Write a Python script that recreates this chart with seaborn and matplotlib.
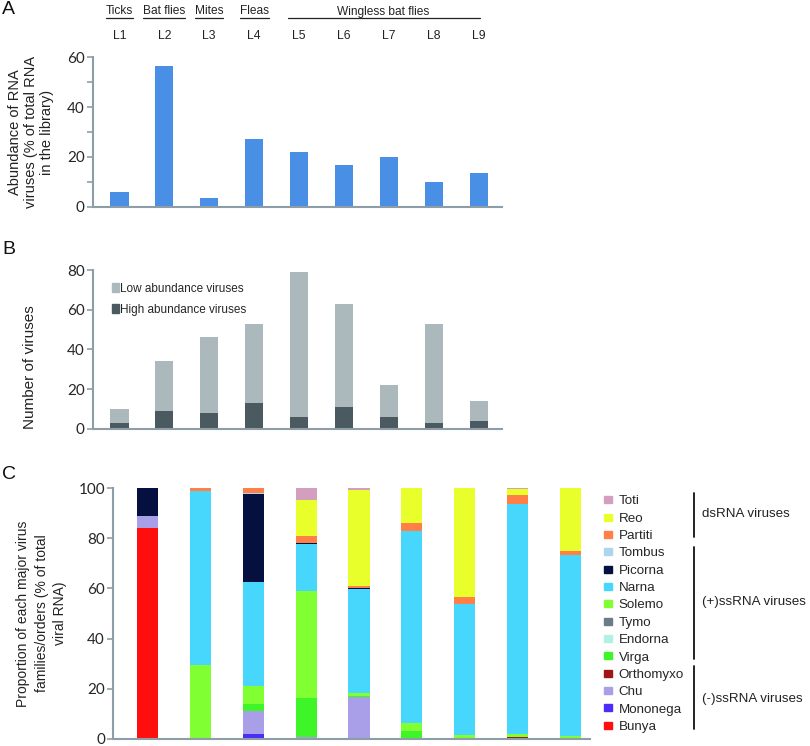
import numpy as np
import pandas as pd
import matplotlib
matplotlib.use("Agg")
import matplotlib.pyplot as plt
import seaborn as sns
from matplotlib.patches import Patch
from matplotlib.lines import Line2D
from matplotlib.transforms import blended_transform_factory

# ---------------- data ----------------
libraries = ["L1", "L2", "L3", "L4", "L5", "L6", "L7", "L8", "L9"]
host_groups = ["Ticks", "Bat flies", "Mites", "Fleas", "Wingless bat flies"]
host_group_pos = [0, 1, 2, 3, 5.86]

# Panel A: abundance of RNA viruses (% of total RNA in the library)
abundance = [5.9, 56.6, 3.4, 27.3, 22.0, 16.6, 19.8, 9.9, 13.7]

# Panel B: number of viruses
high_abundance = [3, 9, 8, 13, 6, 11, 6, 3, 4]
low_abundance = [7, 25, 38, 40, 73, 52, 16, 50, 10]

# Panel C: proportion of each virus family/order (% of total viral RNA)
families = ["Toti", "Reo", "Partiti", "Tombus", "Picorna", "Narna", "Solemo",
            "Tymo", "Endorna", "Virga", "Orthomyxo", "Chu", "Mononega", "Bunya"]
toti      = [0, 0, 0, 4.8, 0.7, 0, 0, 0.4, 0]
reo       = [0, 0, 0, 14.4, 38.4, 13.8, 43.3, 2.3, 25.2]
partiti   = [0, 1.1, 1.9, 2.5, 0.6, 3.2, 2.8, 3.6, 1.3]
tombus    = [0, 0, 0.3, 0, 0, 0, 0, 0, 0]
picorna   = [10.9, 0, 35.2, 0.4, 0.4, 0, 0, 0, 0]
narna     = [0, 69.5, 41.6, 18.8, 41.8, 76.7, 52.4, 92.0, 72.3]
solemo    = [0, 29.4, 7.0, 42.7, 1.0, 3.4, 1.1, 0.9, 1.2]
tymo      = [0, 0, 0, 0, 0, 0, 0, 0, 0]
endorna   = [0, 0, 0, 0, 0, 0, 0, 0, 0]
virga     = [0, 0, 2.9, 15.6, 0.6, 2.9, 0.4, 0.3, 0]
orthomyxo = [0, 0, 0, 0, 0, 0, 0, 0.5, 0]
chu       = [4.8, 0, 9.2, 0.8, 16.5, 0, 0, 0, 0]
mononega  = [0.3, 0, 1.9, 0, 0, 0, 0, 0, 0]
bunya     = [84.0, 0, 0, 0, 0, 0, 0, 0, 0]
family_values = [toti, reo, partiti, tombus, picorna, narna, solemo, tymo,
                 endorna, virga, orthomyxo, chu, mononega, bunya]

family_colors = ["#d49fbe", "#e8ff2b", "#ff7f47", "#acd6ee", "#050f40", "#48d7fc",
                 "#80ff33", "#6b7c87", "#b3f0e4", "#3df527", "#a01515", "#a89fe8",
                 "#4b2df5", "#ff0e0e"]
groups = [("dsRNA viruses", 0, 2), ("(+)ssRNA viruses", 3, 9), ("(-)ssRNA viruses", 10, 13)]

# ---------------- style ----------------
sns.set_theme(style="white")
plt.rcParams["font.family"] = ["Liberation Sans", "DejaVu Sans"]
SPINE = "#8d9ea8"
W, H = 810, 746

fig = plt.figure(figsize=(W / 100, H / 100), dpi=100)
fig.patch.set_facecolor("white")


def ax_rect(left, top, right, bottom):
    return [left / W, 1 - bottom / H, (right - left) / W, (bottom - top) / H]


def style_axes(ax, ticks, labels, labelsize):
    for s in ["top", "right"]:
        ax.spines[s].set_visible(False)
    for s in ["left", "bottom"]:
        ax.spines[s].set_color(SPINE)
        ax.spines[s].set_linewidth(1.5)
    ax.set_yticks(ticks)
    ax.set_yticklabels(labels, fontfamily=["Lato", "DejaVu Sans"], fontsize=labelsize)
    ax.tick_params(axis="y", length=4, width=1.2, color=SPINE, pad=2, left=True)
    ax.tick_params(axis="x", length=0, labelbottom=False)
    ax.set_xlabel("")
    ax.set_ylabel("")


# ---------------- Panel A ----------------
axA = fig.add_axes(ax_rect(93, 57.3, 502, 206.7))
dfA = pd.DataFrame({"library": libraries, "abundance": abundance})
sns.barplot(data=dfA, x="library", y="abundance", color="#4a8fe6", saturation=1,
            width=0.41, linewidth=0, ax=axA)
axA.set_xlim(-0.585, 8.51)
axA.set_ylim(0, 60)
style_axes(axA, [0, 10, 20, 30, 40, 50, 60], ["0", "", "20", "", "40", "", "60"], 11)
axA.text(-0.152, 0.5, "Abundance of RNA\nviruses (% of total RNA\nin the library)",
         transform=axA.transAxes, rotation=90, ha="center", va="center",
         fontsize=10.5, linespacing=1.2, color="#222222")

# library labels and host groups above panel A
blendA = blended_transform_factory(axA.transData, fig.transFigure)
for i, lib in enumerate(libraries):
    fig.text(0, 0, lib, transform=blendA, fontsize=8.8, ha="center", va="center",
             color="#222222").set_position((i, 1 - 36 / H))
group_texts = []
for name, pos in zip(host_groups, host_group_pos):
    t = fig.text(0, 0, name, transform=blendA, fontsize=8.6, ha="center", va="center",
                 color="#222222")
    t.set_position((pos, 1 - 11.5 / H))
    group_texts.append(t)

# ---------------- Panel B ----------------
axB = fig.add_axes(ax_rect(93, 270, 502, 428.7))
total_viruses = [l + h for l, h in zip(low_abundance, high_abundance)]
dfB = pd.DataFrame({"library": libraries, "total": total_viruses, "high": high_abundance})
sns.barplot(data=dfB, x="library", y="total", color="#abb9bd", saturation=1,
            width=0.41, linewidth=0, ax=axB)
sns.barplot(data=dfB, x="library", y="high", color="#4b5960", saturation=1,
            width=0.41, linewidth=0, ax=axB)
axB.set_xlim(-0.585, 8.51)
axB.set_ylim(0, 80)
style_axes(axB, [0, 20, 40, 60, 80], ["0", "20", "40", "60", "80"], 11)
axB.legend(handles=[Patch(color="#abb9bd"), Patch(color="#4b5960")],
           labels=["Low abundance viruses", "High abundance viruses"],
           loc="upper left", bbox_to_anchor=(0.035, 0.95), frameon=False,
           handlelength=0.55, handleheight=0.7, handletextpad=0.15,
           labelspacing=0.75, borderaxespad=0,
           prop={"family": ["Liberation Sans Narrow", "Liberation Sans"], "size": 8.5})
fig.text(30 / W, 1 - 367 / H, "Number of viruses", rotation=90, ha="center",
         va="center", fontsize=11, color="#222222")

# ---------------- Panel C ----------------
axC = fig.add_axes(ax_rect(113.3, 488.3, 590, 738.7))
rows = []
for fam, vals in zip(families, family_values):
    for i, v in enumerate(vals):
        rows.append({"x": i, "family": fam, "value": v})
dfC = pd.DataFrame(rows)
sns.histplot(data=dfC, x="x", weights="value", hue="family", hue_order=families,
             palette=dict(zip(families, family_colors)), multiple="stack",
             discrete=True, shrink=0.4, alpha=1, linewidth=0, edgecolor="none",
             legend=False, ax=axC)
axC.set_xlim(-0.65, 8.37)
axC.set_ylim(0, 100)
style_axes(axC, [0, 20, 40, 60, 80, 100], ["0", "20", "40", "60", "80", "100"], 11)
axC.text(-0.15, 0.5, "Proportion of each major virus\nfamilies/orders (% of total\nviral RNA)",
         transform=axC.transAxes, rotation=90, ha="center", va="center",
         fontsize=10, linespacing=1.4, color="#222222")

handles = [Patch(color=c) for c in family_colors]
fig.legend(handles=handles, labels=families, loc="upper left",
           bbox_to_anchor=(604 / W, 1 - 495.5 / H), frameon=False,
           handlelength=0.6, handleheight=0.45, handletextpad=0.5,
           labelspacing=0.40, borderaxespad=0, borderpad=0,
           prop={"family": ["Liberation Sans", "DejaVu Sans"], "size": 9.6})

# bracket lines and group labels for the legend
brackets = [(492.7, 536.7, 514.3), (546.7, 659.3, 601.7), (666, 729.3, 699.3)]
for (name, _, _), (y0, y1, yc) in zip(groups, brackets):
    fig.add_artist(Line2D([694.3 / W, 694.3 / W], [1 - y0 / H, 1 - y1 / H],
                          transform=fig.transFigure, color="#111111", lw=1.3))
    fig.text(701.5 / W, 1 - yc / H, name, ha="left", va="center", fontsize=9.6,
             color="#222222")

# panel letters
fig.text(2 / W, 1 - 10 / H, "A", fontsize=14, ha="left", va="center", color="#111111")
fig.text(2 / W, 1 - 249.5 / H, "B", fontsize=14, ha="left", va="center", color="#111111")
fig.text(2 / W, 1 - 474.5 / H, "C", fontsize=14, ha="left", va="center", color="#111111")

# underline host group labels
fig.canvas.draw()
renderer = fig.canvas.get_renderer()
for t, name in zip(group_texts, host_groups):
    bb = t.get_window_extent(renderer)
    if name == "Wingless bat flies":
        fig.add_artist(Line2D([3.75, 8.02], [1 - 18.3 / H, 1 - 18.3 / H],
                              transform=blendA, color="#222222", lw=0.9))
    else:
        fig.add_artist(Line2D([bb.x0 / fig.bbox.width, bb.x1 / fig.bbox.width],
                              [1 - 18.3 / H, 1 - 18.3 / H],
                              transform=fig.transFigure, color="#222222", lw=0.9))

fig.savefig("out.png", dpi=100, facecolor="white")
